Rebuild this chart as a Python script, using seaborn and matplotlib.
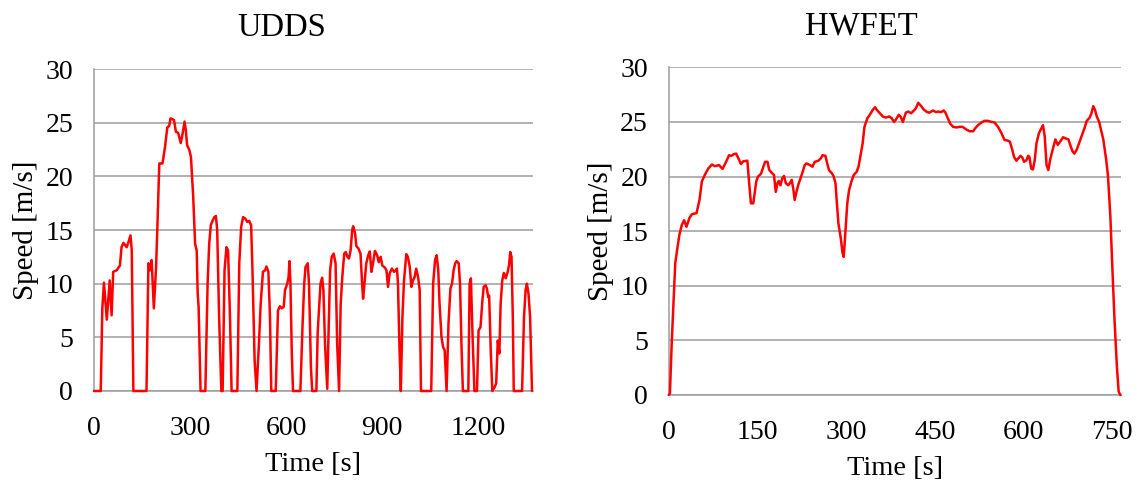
import numpy as np
import pandas as pd
import matplotlib
matplotlib.use('Agg')
import matplotlib.pyplot as plt
import seaborn as sns

# ─── DATA ─────────────────────────────────────────────────────────────────────
UDDS_TIME = [
    0, 21, 26, 31, 40, 49, 55, 60, 71, 81, 86, 92, 102, 108, 114, 118, 123,
    164, 170, 175, 180, 187, 194, 199, 204, 214, 222, 229, 235, 239, 250, 256,
    263, 271, 277, 283, 287, 291, 298, 303, 310, 316, 321, 324, 327, 333,
    348, 355, 360, 365, 371, 376, 381, 385, 391, 398,
    402, 408, 414, 419, 425, 430,
    448, 454, 460, 466, 473, 479, 485, 491, 495, 502, 508,
    515, 521, 528, 535, 539, 545, 550, 554,
    568, 575, 581, 587, 593, 597, 604, 608, 611, 614, 618, 622,
    645, 652, 657, 661, 668, 672, 678, 682,
    695, 699, 703, 708, 713, 717, 722, 729, 733, 738, 743, 749, 755, 760, 766,
    771, 776, 782, 787, 792, 797, 802, 807, 810, 816, 820, 826, 833, 838, 841,
    846, 851, 857, 862, 867, 872, 878, 885, 890, 896, 901, 909, 914, 919, 924,
    931, 938, 943, 947, 950, 955, 959,
    964, 969, 976, 981, 987, 992, 997, 1002, 1007, 1013, 1018, 1022,
    1054, 1060, 1066, 1071, 1076, 1080, 1086, 1091, 1096, 1102,
    1108, 1114, 1119, 1124, 1129, 1133, 1140, 1144, 1149, 1153,
    1170, 1174, 1178, 1183, 1189,
    1197, 1202, 1208, 1214, 1218, 1224, 1228, 1232, 1235, 1240, 1245,
    1252, 1257, 1262, 1267, 1271, 1276, 1281, 1287, 1293, 1297, 1301, 1305,
    1309, 1312,
    1338, 1344, 1349, 1353, 1358, 1363, 1369,
]
UDDS_SPEED = [
    0, 0, 7.7, 10.1, 6.65, 10.3, 7.05, 11.1, 11.25, 11.7, 13.4, 13.8, 13.4,
    13.9, 14.5, 13.1, 0,
    0, 11.9, 11.25, 12.2, 7.7, 11.55, 16.2, 21.2, 21.2, 22.75, 24.55, 24.7,
    25.4, 25.25, 24.15, 24.05, 23.1, 24.0, 25.1, 24.3, 22.9, 22.45, 21.8,
    18.1, 13.7, 13.1, 9.1, 7.8, 0,
    0, 10.0, 13.7, 15.45, 15.9, 16.2, 16.3, 15.0, 6.9, 0,
    0, 11.25, 13.4, 13.1, 6.9, 0,
    0, 11.9, 15.3, 16.2, 16.05, 15.75, 15.85, 15.45, 11.55, 2.85, 0,
    4.1, 8.15, 11.1, 11.25, 11.6, 11.1, 6.9, 0,
    0, 7.5, 7.9, 7.7, 7.85, 9.4, 10.0, 10.6, 12.1, 10.0, 3.8, 0,
    0, 6.3, 10.0, 11.55, 11.9, 10.0, 2.2, 0,
    0, 5.35, 7.5, 10.0, 10.55, 9.4, 4.4, 0.2, 5.35, 11.25, 12.5, 12.8, 11.9,
    4.4, 0,
    8.15, 10.6, 12.8, 12.95, 12.5, 12.35, 13.1, 15.0, 15.35, 14.7, 13.5, 13.3,
    12.8, 10.0, 8.6, 10.3, 11.9, 12.65, 13.0, 11.1, 11.9, 13.05, 12.65, 12.0,
    12.5, 11.7, 11.5, 11.25, 9.7, 10.95, 11.4, 11.1, 11.25, 11.4, 10.0, 3.8, 0,
    6.9, 10.3, 12.75, 12.5, 11.55, 9.7, 10.3, 10.6, 11.4, 10.6, 9.4, 0,
    0, 10.0, 12.2, 12.65, 11.25, 8.15, 5.05, 4.1, 3.8, 0,
    6.3, 9.55, 10.0, 11.25, 11.9, 12.1, 11.9, 10.0, 3.8, 0,
    0, 10.0, 10.5, 5.35, 0,
    0, 5.65, 5.95, 8.45, 9.7, 9.85, 9.55, 8.75, 8.9, 3.8, 0,
    0.35, 0.7, 4.7, 3.5, 8.15, 10.3, 11.0, 10.5, 11.1, 11.7, 12.95, 12.5,
    6.9, 0,
    0, 6.9, 9.4, 10.0, 9.1, 6.9, 0,
]

HWFET_TIME = [
    0, 2, 5, 8, 11, 15, 18, 22, 26, 30, 35, 39, 47, 52, 56, 61, 67, 73, 78,
    85, 91, 97, 102, 106, 110, 114, 118, 122, 126, 133, 136, 139, 143, 148,
    151, 156, 160, 163, 167, 170, 175, 178, 181, 184, 186, 189, 192, 195,
    198, 202, 205, 208, 211, 213, 216, 220, 223, 226, 230, 233, 239, 243,
    247, 253, 257, 260, 265, 268, 271, 276, 279, 282, 284, 287, 291, 294,
    296, 299, 302, 305, 309, 313, 318, 321, 324, 328, 331, 336, 340, 345,
    349, 352, 357, 362, 367, 373, 377, 381, 384, 389, 392, 396, 401, 405,
    410, 413, 418, 422, 427, 431, 437, 441, 447, 452, 456, 461, 465, 468,
    472, 476, 481, 487, 492, 497, 501, 505, 509, 515, 518, 523, 529, 534,
    540, 546, 551, 557, 563, 568, 573, 577, 581, 584, 588, 591, 595, 598,
    601, 605, 608, 610, 613, 616, 619, 622, 626, 630, 633, 636, 639, 642,
    645, 650, 654, 658, 662, 667, 671, 676, 679, 683, 686, 690, 695, 699,
    703, 707, 712, 715, 718, 721, 724, 728, 732, 735, 740, 743, 747, 750,
    754, 758, 761, 764,
]
HWFET_SPEED = [
    0, 0.15, 4.7, 8.4, 12.05, 13.6, 14.65, 15.55, 16.0, 15.4, 16.2, 16.55,
    16.65, 17.85, 19.55, 20.15, 20.75, 21.1, 20.95, 21.05, 20.7, 21.35, 21.95,
    21.9, 22.05, 22.1, 21.65, 21.15, 21.4, 21.45, 19.4, 17.55, 17.55, 19.55,
    20.0, 20.25, 20.9, 21.35, 21.35, 20.6, 20.3, 20.15, 18.6, 19.4, 19.6,
    19.2, 19.85, 20.05, 19.4, 19.2, 19.4, 19.7, 18.75, 17.85, 18.6, 19.4,
    19.85, 20.35, 21.05, 21.2, 21.05, 20.9, 21.35, 21.45, 21.65, 21.95, 21.9,
    21.2, 20.6, 20.3, 20.0, 19.4, 17.85, 15.7, 14.35, 13.0, 12.65, 15.1,
    17.55, 18.75, 19.55, 20.15, 20.45, 20.9, 21.8, 23.05, 24.55, 25.35, 25.65,
    26.1, 26.35, 26.1, 25.8, 25.5, 25.4, 25.5, 25.35, 25.0, 25.2, 25.65, 25.5,
    25.0, 25.85, 25.95, 25.8, 25.95, 26.25, 26.75, 26.45, 26.15, 25.9, 25.85,
    26.05, 25.9, 25.95, 25.9, 26.05, 25.85, 25.35, 24.85, 24.55, 24.5, 24.55,
    24.55, 24.4, 24.25, 24.15, 24.15, 24.4, 24.7, 24.95, 25.1, 25.1, 25.0,
    24.95, 24.55, 23.95, 23.35, 23.3, 23.2, 22.45, 21.8, 21.45, 21.65, 21.9,
    21.75, 21.35, 21.5, 21.9, 21.8, 20.75, 20.65, 21.5, 23.05, 23.95, 24.4,
    24.7, 23.65, 21.05, 20.6, 21.5, 22.6, 23.4, 22.9, 23.2, 23.6, 23.5, 23.4,
    22.9, 22.3, 22.1, 22.45, 23.2, 23.8, 24.4, 25.1, 25.4, 25.8, 26.45, 26.1,
    25.5, 25.0, 24.1, 23.4, 21.5, 20.0, 16.3, 12.05, 6.85, 2.6, 0.3, 0,
]

UDDS_XTICKS = [0, 300, 600, 900, 1200]
HWFET_XTICKS = [0, 150, 300, 450, 600, 750]
Y_TICKS = [0, 5, 10, 15, 20, 25, 30]

# ─── STYLE ────────────────────────────────────────────────────────────────────
GRID = '#9c9c9c'
sns.set_style('white')
plt.rcParams['font.family'] = ['Liberation Serif', 'DejaVu Serif']
plt.rcParams['text.color'] = 'black'
plt.rcParams['axes.labelcolor'] = 'black'
plt.rcParams['xtick.color'] = 'black'
plt.rcParams['ytick.color'] = 'black'


def draw_panel(ax, t, v, title, xticks, xmax, title_x):
    df = pd.DataFrame({'Time': t, 'Speed': v})
    sns.lineplot(data=df, x='Time', y='Speed', ax=ax, color='#ff0000',
                 linewidth=1.8, clip_on=False, zorder=3)
    ax.set_xlim(0, xmax)
    ax.set_ylim(0, 30)
    ax.set_xticks(xticks)
    ax.set_yticks(Y_TICKS)
    ax.yaxis.grid(True, color=GRID, linewidth=1.1)
    ax.xaxis.grid(False)
    for s in ['top', 'right']:
        ax.spines[s].set_visible(False)
    for s in ['left', 'bottom']:
        ax.spines[s].set_color(GRID)
        ax.spines[s].set_linewidth(1.1)
    ax.tick_params(axis='both', direction='out', length=6, width=1.1,
                   color=GRID, labelcolor='black', labelsize=20)
    ax.tick_params(axis='x', pad=12)
    ax.tick_params(axis='y', pad=9)
    ax.set_title(title, fontsize=23.5, pad=24, x=title_x, color='black')
    ax.set_xlabel('Time [s]', fontsize=20.5, labelpad=8)
    ax.set_ylabel('Speed [m/s]', fontsize=21, labelpad=4.5)


fig = plt.figure(figsize=(11.41, 4.82), dpi=100)
ax1 = fig.add_axes([0.0824, 0.1888, 0.3847, 0.668])
ax2 = fig.add_axes([0.5861, 0.1805, 0.3964, 0.6798])

draw_panel(ax1, UDDS_TIME, UDDS_SPEED, 'UDDS', UDDS_XTICKS, 1372, 0.427)
draw_panel(ax2, HWFET_TIME, HWFET_SPEED, 'HWFET', HWFET_XTICKS, 765, 0.425)

fig.savefig('out.png', dpi=100)
plt.close(fig)
